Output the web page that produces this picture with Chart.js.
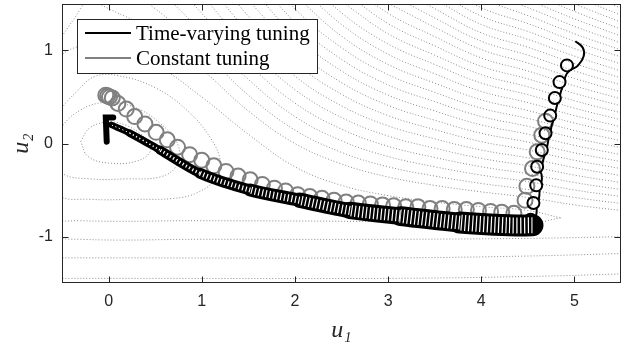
<!DOCTYPE html>
<html>
<head>
<meta charset="utf-8">
<script src="https://cdn.jsdelivr.net/npm/chart.js@4.4.0/dist/chart.umd.min.js"></script>
<style>
  html, body { margin: 0; padding: 0; background: #fff; }
</style>
</head>
<body>
<canvas id="chart" width="635" height="343"></canvas>
<script>
const xTicks = [0, 1, 2, 3, 4, 5];
const yTicks = [-1, 0, 1];
const legendLabels = ['Time-varying tuning', 'Constant tuning'];

// time-varying tuning: loop centres on the way down (u1, u2)
const tvLoopU1 = [4.92, 4.84, 4.79, 4.74, 4.69, 4.65, 4.60, 4.59, 4.56, 4.53];
const tvLoopU2 = [0.84, 0.66, 0.49, 0.30, 0.11, -0.07, -0.25, -0.45, -0.64, -0.82];
// start hook
const tvHookU1 = [5.01, 5.09, 5.10, 5.04, 4.96];
const tvHookU2 = [1.10, 1.03, 0.94, 0.84, 0.79];
// dense band of small loops towards the optimum
const tvBandU1 = [4.55, 4.30, 3.77, 3.13, 2.59, 2.05, 1.52, 0.98, 0.55, 0.23, 0.03];
const tvBandU2 = [-0.88, -0.88, -0.85, -0.78, -0.72, -0.61, -0.50, -0.32, -0.07, 0.11, 0.20];
const tvEndU1 = [0.05, -0.03, -0.02];
const tvEndU2 = [0.28, 0.28, 0.02];

// constant tuning: loop centres
const ctU1 = [4.69, 4.65, 4.60, 4.55, 4.49, 4.47,
  4.35, 4.22, 4.10, 3.97, 3.84, 3.71, 3.58, 3.45, 3.32, 3.19, 3.06, 2.94, 2.81, 2.68, 2.55,
  2.42, 2.29, 2.16, 2.03, 1.90, 1.78, 1.65, 1.52, 1.39, 1.26, 1.13, 1.00, 0.87, 0.74, 0.63,
  0.51, 0.39, 0.28, 0.19, 0.10, 0.04, 0.01, -0.01, -0.03];
const ctU2 = [0.24, 0.09, -0.09, -0.27, -0.46, -0.61,
  -0.75, -0.74, -0.73, -0.72, -0.71, -0.71, -0.70, -0.70, -0.68, -0.68, -0.67, -0.66, -0.65, -0.64, -0.63,
  -0.61, -0.59, -0.57, -0.55, -0.51, -0.48, -0.44, -0.39, -0.35, -0.30, -0.24, -0.18, -0.12, -0.04, 0.04,
  0.12, 0.21, 0.29, 0.37, 0.43, 0.49, 0.50, 0.51, 0.52];

// cost contours around the optimum (u1, u2 pairs)
const innerContours = [
  [[-0.3, 0.02], [-0.2, 0.17], [0.0, 0.23], [0.2, 0.19], [0.4, 0.05], [0.45, -0.08], [0.3, -0.19], [0.0, -0.21], [-0.22, -0.14], [-0.3, 0.02]],
  [[-0.62, -0.1], [-0.5, 0.18], [-0.3, 0.36], [-0.05, 0.44], [0.25, 0.40], [0.55, 0.22], [0.75, -0.03], [0.72, -0.25], [0.55, -0.36], [0.2, -0.38], [-0.2, -0.38], [-0.5, -0.32], [-0.62, -0.1]],
  [[-0.7, -0.2], [-0.55, -0.55], [-0.2, -0.6], [0.3, -0.6], [0.7, -0.59], [0.95, -0.53], [1.15, -0.38], [1.2, -0.2], [1.1, 0.05], [0.85, 0.35], [0.5, 0.6], [0.1, 0.73], [-0.15, 0.72], [-0.35, 0.55], [-0.5, 0.38], [-0.65, 0.1], [-0.7, -0.2]],
  [[4.85, -0.8], [4.5, -0.72], [4.0, -0.68], [3.5, -0.63], [3.0, -0.56], [2.5, -0.45], [2.0, -0.25], [1.5, 0.1], [1.0, 0.5], [0.5, 0.85], [0.0, 1.05], [-0.3, 1.05], [-0.55, 0.9], [-0.72, 0.5], [-0.75, -0.3], [-0.6, -0.78], [-0.3, -0.83], [1.0, -0.83], [3.0, -0.84], [4.5, -0.86], [4.85, -0.8]],
  [[5.6, -1.0], [4.5, -1.02], [3.0, -1.03], [1.0, -1.03], [-0.3, -1.03], [-0.6, -0.97], [-0.8, -0.6], [-0.85, 0.2], [-0.7, 0.8], [-0.5, 1.15], [-0.3, 1.45], [-0.2, 1.65]],
  [[5.6, -1.18], [4.5, -1.21], [3.0, -1.23], [0.0, -1.23], [-0.6, -1.23]],
  [[5.6, -1.4], [4.5, -1.43], [3.0, -1.45], [0.0, -1.45], [-0.6, -1.45]]
];
// upper contours: u2 read at these u1 positions
const contourX = [5.5, 5.0, 4.5, 4.0, 3.5, 3.0, 2.5, 2.0, 1.5, 1.0, 0.5, 0.0, -0.3];
const upperContours = [
  [-0.72, -0.66, -0.58, -0.52, -0.45, -0.36, -0.22, 0.0, 0.35, 0.8, 1.2, 1.45, 1.6],
  [-0.645, -0.58, -0.495, -0.43, -0.35, -0.25, -0.095, 0.145, 0.52, 1.0, 1.45, 1.75],
  [-0.57, -0.50, -0.41, -0.34, -0.25, -0.14, 0.03, 0.29, 0.69, 1.2, 1.7],
  [-0.495, -0.42, -0.325, -0.25, -0.15, -0.03, 0.155, 0.435, 0.86, 1.4, 1.95],
  [-0.42, -0.34, -0.24, -0.16, -0.05, 0.08, 0.28, 0.58, 1.03, 1.6],
  [-0.345, -0.26, -0.155, -0.07, 0.05, 0.19, 0.405, 0.725, 1.2, 1.8],
  [-0.27, -0.18, -0.07, 0.02, 0.15, 0.30, 0.53, 0.87, 1.37, 2.0],
  [-0.195, -0.10, 0.015, 0.11, 0.25, 0.41, 0.655, 1.015, 1.54],
  [-0.12, -0.02, 0.10, 0.20, 0.35, 0.52, 0.78, 1.16, 1.71],
  [-0.045, 0.06, 0.185, 0.29, 0.45, 0.63, 0.905, 1.305, 1.88],
  [0.03, 0.14, 0.27, 0.38, 0.55, 0.74, 1.03, 1.45, 2.05],
  [0.105, 0.22, 0.355, 0.47, 0.65, 0.85, 1.155, 1.595],
  [0.18, 0.30, 0.44, 0.56, 0.75, 0.96, 1.28, 1.74],
  [0.255, 0.38, 0.525, 0.65, 0.85, 1.07, 1.405, 1.885],
  [0.33, 0.46, 0.61, 0.74, 0.95, 1.18, 1.53],
  [0.405, 0.54, 0.695, 0.83, 1.05, 1.29, 1.655],
  [0.48, 0.62, 0.78, 0.92, 1.15, 1.40, 1.78],
  [0.555, 0.70, 0.865, 1.01, 1.25, 1.51],
  [0.63, 0.78, 0.95, 1.10, 1.35, 1.62],
  [0.705, 0.86, 1.035, 1.19, 1.45, 1.73],
  [0.78, 0.94, 1.12, 1.28, 1.55],
  [0.855, 1.02, 1.205, 1.37, 1.65],
  [0.93, 1.10, 1.29, 1.46, 1.75],
  [1.005, 1.18, 1.375, 1.55],
  [1.08, 1.26, 1.46, 1.64],
  [1.155, 1.34, 1.545],
  [1.23, 1.42, 1.63],
  [1.305, 1.50],
  [1.38, 1.58],
  [1.455, 1.66]
];

const pts = (a, b) => a.map((v, i) => ({ x: v, y: b[i] }));
const bandWidth = u => Math.min(22, 6 + 4 * u);
const loopR = 6;

const datasets = [];
datasets.push({
  label: legendLabels[0], data: pts(tvLoopU1, tvLoopU2), showLine: false, order: 0,
  pointStyle: 'circle', pointRadius: loopR, pointBorderWidth: 2,
  pointBorderColor: '#000', pointBackgroundColor: 'rgba(0,0,0,0)'
});
datasets.push({
  data: pts(tvHookU1, tvHookU2), borderColor: '#000', borderWidth: 2, tension: 0.4,
  pointRadius: 0, order: 0
});
datasets.push({
  data: pts(tvBandU1, tvBandU2), borderColor: '#000', tension: 0.3, pointRadius: 0,
  borderCapStyle: 'round', order: 0,
  segment: { borderWidth: c => bandWidth((c.p0.parsed.x + c.p1.parsed.x) / 2) }
});
datasets.push({
  data: pts(tvBandU1, tvBandU2), borderColor: '#fff', tension: 0.3, pointRadius: 0,
  borderDash: [1.2, 2.5], order: -1,
  segment: { borderWidth: c => Math.max(1, bandWidth((c.p0.parsed.x + c.p1.parsed.x) / 2) - 6) }
});
datasets.push({
  data: pts(tvEndU1, tvEndU2), borderColor: '#000', borderWidth: 6, tension: 0,
  borderCapStyle: 'round', pointRadius: 0, order: -1
});
datasets.push({
  label: legendLabels[1], data: pts(ctU1, ctU2), showLine: false, order: 1,
  pointStyle: 'circle', pointRadius: 7.5, pointBorderWidth: 2,
  pointBorderColor: '#808080', pointBackgroundColor: 'rgba(0,0,0,0)'
});
const contourStyle = {
  borderColor: '#8a8a8a', borderWidth: 1, borderDash: [1, 2],
  tension: 0.4, pointRadius: 0, order: 5
};
innerContours.forEach(c => datasets.push({
  ...contourStyle, data: c.map(p => ({ x: p[0], y: p[1] }))
}));
upperContours.forEach(c => datasets.push({
  ...contourStyle, data: c.map((v, i) => ({ x: contourX[i], y: v }))
}));

const frame = {
  id: 'frame',
  afterDatasetsDraw(chart) {
    const { ctx, chartArea: a, scales: { x, y } } = chart;
    ctx.save();

    // strokes linking consecutive loops of the time-varying run
    ctx.strokeStyle = '#000';
    ctx.lineWidth = 2;
    ctx.beginPath();
    for (let i = 0; i < tvLoopU1.length - 1; i++) {
      const x0 = x.getPixelForValue(tvLoopU1[i]), y0 = y.getPixelForValue(tvLoopU2[i]);
      const x1 = x.getPixelForValue(tvLoopU1[i + 1]), y1 = y.getPixelForValue(tvLoopU2[i + 1]);
      ctx.moveTo(x0 + loopR * 0.5, y0 + loopR * 0.87);
      ctx.quadraticCurveTo(x1 + loopR * 1.1, y0 + loopR * 1.2, x1 + loopR * 0.87, y1 - loopR * 0.5);
    }
    ctx.stroke();

    ctx.strokeStyle = '#262626';
    ctx.lineWidth = 1;
    const L = Math.round(a.left) + 0.5, R = Math.round(a.right) - 0.5;
    const T = Math.round(a.top) + 0.5, B = Math.round(a.bottom) - 0.5;
    ctx.strokeRect(L, T, R - L, B - T);
    ctx.beginPath();
    xTicks.forEach(v => {
      const px = Math.round(x.getPixelForValue(v)) + 0.5;
      ctx.moveTo(px, B); ctx.lineTo(px, B - 6);
      ctx.moveTo(px, T); ctx.lineTo(px, T + 6);
    });
    yTicks.forEach(v => {
      const py = Math.round(y.getPixelForValue(v)) + 0.5;
      ctx.moveTo(L, py); ctx.lineTo(L + 6, py);
      ctx.moveTo(R, py); ctx.lineTo(R - 6, py);
    });
    ctx.stroke();

    // legend box
    const lx = 77.5, ly = 19.5, lw = 240, lh = 54;
    ctx.fillStyle = '#fff';
    ctx.fillRect(lx, ly, lw, lh);
    ctx.strokeRect(lx, ly, lw, lh);
    const colors = ['#000', '#808080'];
    ctx.font = '21px "Liberation Serif"';
    ctx.textBaseline = 'middle';
    legendLabels.forEach((t, i) => {
      const cy = 33 + i * 25;
      ctx.strokeStyle = colors[i];
      ctx.lineWidth = 2;
      ctx.beginPath(); ctx.moveTo(85, cy); ctx.lineTo(131, cy); ctx.stroke();
      ctx.fillStyle = '#000';
      ctx.fillText(t, 136, cy + 1);
    });
    ctx.restore();
  }
};

const tickFont = { family: '"Liberation Sans", Arial, sans-serif', size: 16 };
const titleFont = { family: '"Liberation Serif", serif', size: 24, style: 'italic', lineHeight: 1 };

new Chart(document.getElementById('chart'), {
  type: 'line',
  data: { datasets },
  plugins: [frame],
  options: {
    responsive: false,
    devicePixelRatio: 1,
    animation: false,
    events: [],
    layout: { autoPadding: false, padding: { top: 4, right: 14, bottom: 0, left: 0 } },
    plugins: { legend: { display: false }, tooltip: { enabled: false } },
    scales: {
      x: {
        type: 'linear', position: 'bottom', min: -0.5, max: 5.5,
        afterBuildTicks: s => { s.ticks = xTicks.map(v => ({ value: v })); },
        afterFit: s => { s.height = 60; s.paddingLeft = 0; s.paddingRight = 0; },
        grid: { display: false, drawTicks: false },
        border: { display: false },
        ticks: { font: tickFont, color: '#262626', padding: 9, maxRotation: 0, autoSkip: false },
        title: { display: true, text: 'u₁', font: titleFont, color: '#262626', padding: 0 }
      },
      y: {
        type: 'linear', position: 'left', min: -1.5, max: 1.5,
        afterBuildTicks: s => { s.ticks = yTicks.map(v => ({ value: v })); },
        afterFit: s => { s.width = 62; s.paddingTop = 0; s.paddingBottom = 0; },
        grid: { display: false, drawTicks: false },
        border: { display: false },
        ticks: { font: tickFont, color: '#262626', padding: 9, autoSkip: false },
        title: { display: true, text: 'u₂', font: titleFont, color: '#262626', padding: { top: 10, bottom: 0 } }
      }
    }
  }
});
</script>
</body>
</html>
